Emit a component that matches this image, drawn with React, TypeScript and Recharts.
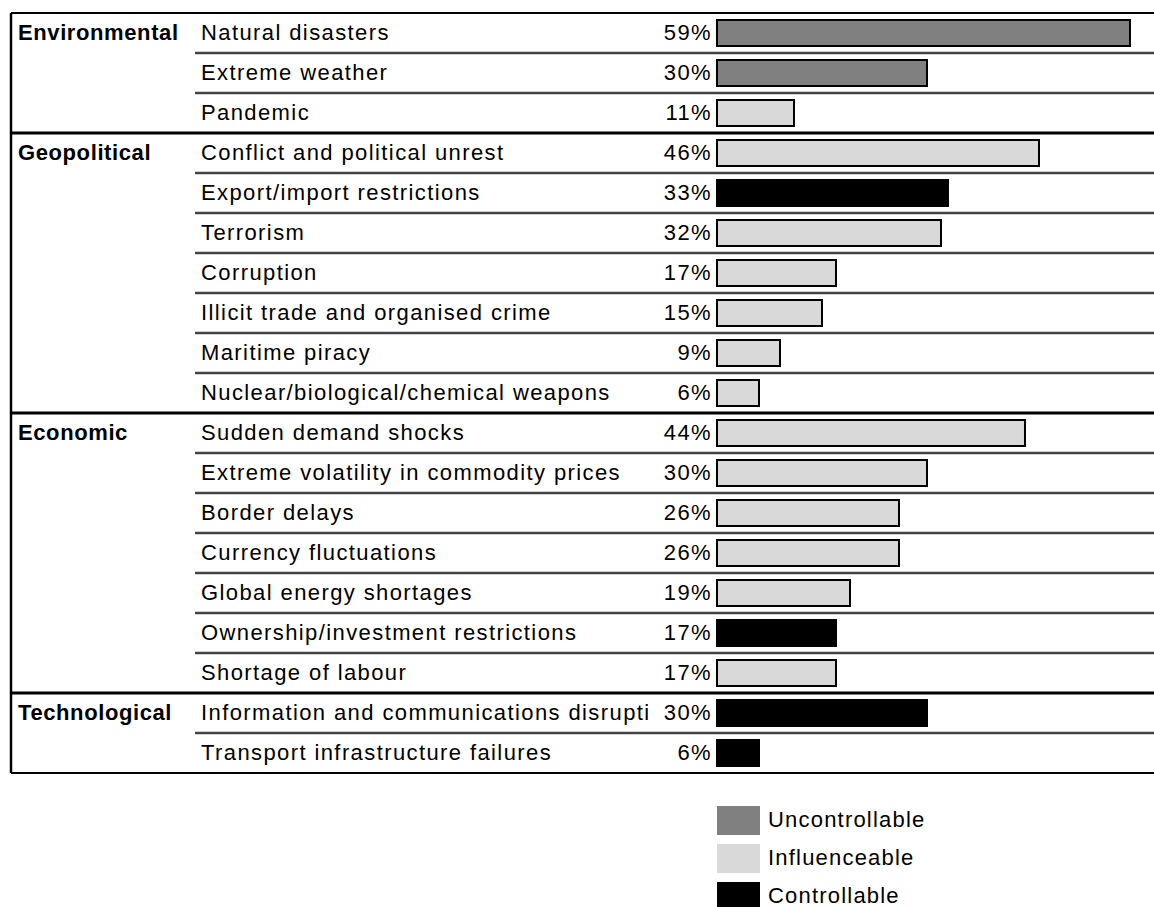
import React from "react";
import { BarChart, Bar, XAxis, YAxis, Legend } from "recharts";

// risk categories and rows
const groupNames = ["Environmental", "Geopolitical", "Economic", "Technological"];
const groupSizes = [3, 7, 7, 2];

const risks = [
  "Natural disasters",
  "Extreme weather",
  "Pandemic",
  "Conflict and political unrest",
  "Export/import restrictions",
  "Terrorism",
  "Corruption",
  "Illicit trade and organised crime",
  "Maritime piracy",
  "Nuclear/biological/chemical weapons",
  "Sudden demand shocks",
  "Extreme volatility in commodity prices",
  "Border delays",
  "Currency fluctuations",
  "Global energy shortages",
  "Ownership/investment restrictions",
  "Shortage of labour",
  "Information and communications disrupti",
  "Transport infrastructure failures",
];

const shares = [59, 30, 11, 46, 33, 32, 17, 15, 9, 6, 44, 30, 26, 26, 19, 17, 17, 30, 6];

// U = uncontrollable, I = influenceable, C = controllable
const control = ["U", "U", "I", "I", "C", "I", "I", "I", "I", "I", "I", "I", "I", "I", "I", "C", "I", "C", "C"];

const seriesKeys = ["uncontrollable", "influenceable", "controllable"];
const seriesNames = ["Uncontrollable", "Influenceable", "Controllable"];
const seriesCodes = ["U", "I", "C"];
const seriesColors: Record<string, string> = {
  uncontrollable: "#808080",
  influenceable: "#d9d9d9",
  controllable: "#000000",
};

const groupStarts = groupSizes.map((_, g) => groupSizes.slice(0, g).reduce((a, b) => a + b, 0));
const groupEnds = groupStarts.map((s, g) => s + groupSizes[g] - 1);

const rows = risks.map((name, i) => {
  const row: Record<string, string | number | null> = { name };
  seriesKeys.forEach((k, s) => {
    row[k] = control[i] === seriesCodes[s] ? shares[i] : null;
  });
  return row;
});

const W = 1154;
const H = 907;
const TOP = 13;
const BOTTOM = 134;
const HALF = (H - TOP - BOTTOM) / risks.length / 2;
const FONT = "'Liberation Sans', Arial, sans-serif";
const FS = 22;
const SPACING = 1.4;

const RowTick = (props: any) => {
  const { y, index } = props;
  const g = groupStarts.indexOf(index);
  const isGroupEnd = groupEnds.includes(index);
  const isLast = index === risks.length - 1;
  return (
    <g>
      {index === 0 && <line x1={11} x2={W} y1={y - HALF} y2={y - HALF} stroke="#000" strokeWidth={2} />}
      <line x1={11} x2={11} y1={y - HALF} y2={y + HALF} stroke="#000" strokeWidth={2.5} />
      {isLast ? (
        <line x1={11} x2={W} y1={y + HALF} y2={y + HALF} stroke="#000" strokeWidth={2} />
      ) : isGroupEnd ? (
        <line x1={11} x2={W} y1={y + HALF} y2={y + HALF} stroke="#000" strokeWidth={3} />
      ) : (
        <line x1={195} x2={W} y1={y + HALF} y2={y + HALF} stroke="#444" strokeWidth={2.5} />
      )}
      {g >= 0 && (
        <text
          x={18}
          y={y}
          dy="0.33em"
          fontSize={FS}
          fontWeight="bold"
          letterSpacing={0.6}
          fill="#000"
          fontFamily={FONT}
        >
          {groupNames[g]}
        </text>
      )}
      <text x={201} y={y} dy="0.33em" fontSize={FS} letterSpacing={SPACING} fill="#000" fontFamily={FONT}>
        {risks[index]}
      </text>
      <text
        x={712}
        y={y}
        dy="0.33em"
        fontSize={FS}
        letterSpacing={SPACING}
        fill="#000"
        fontFamily={FONT}
        textAnchor="end"
      >
        {`${shares[index]}%`}
      </text>
    </g>
  );
};

const LegendBox = (props: any) => {
  const items = [...(props.payload || [])].sort(
    (a: any, b: any) => seriesKeys.indexOf(a.dataKey) - seriesKeys.indexOf(b.dataKey)
  );
  return (
    <div style={{ fontFamily: FONT }}>
      {items.map((entry: any) => (
        <div key={entry.dataKey} style={{ display: "flex", alignItems: "center", height: 38 }}>
          <div
            style={{
              width: 43,
              height: 29,
              background: seriesColors[entry.dataKey] || entry.color,
              marginRight: 8,
            }}
          />
          <span style={{ fontSize: FS, letterSpacing: 1.2, color: "#000" }}>{entry.value}</span>
        </div>
      ))}
    </div>
  );
};

export default function App() {
  return (
    <div style={{ position: "absolute", left: 0, top: 0, width: W, height: H, background: "#fff" }}>
      <BarChart
        width={W}
        height={H}
        data={rows}
        layout="vertical"
        barCategoryGap={0}
        margin={{ top: TOP, right: 0, bottom: BOTTOM, left: 0 }}
      >
        <XAxis type="number" domain={[0, 62.43]} hide />
        <YAxis
          type="category"
          dataKey="name"
          width={717}
          interval={0}
          axisLine={false}
          tickLine={false}
          tick={RowTick}
        />
        <Legend
          layout="vertical"
          align="center"
          verticalAlign="middle"
          content={LegendBox}
          wrapperStyle={{ position: "absolute", left: 717, top: 801, width: 300 }}
        />
        {seriesKeys.map((k, s) => (
          <Bar
            key={k}
            dataKey={k}
            name={seriesNames[s]}
            stackId="risk"
            fill={seriesColors[k]}
            stroke="#000"
            strokeWidth={2}
            barSize={26}
            isAnimationActive={false}
          />
        ))}
      </BarChart>
    </div>
  );
}
